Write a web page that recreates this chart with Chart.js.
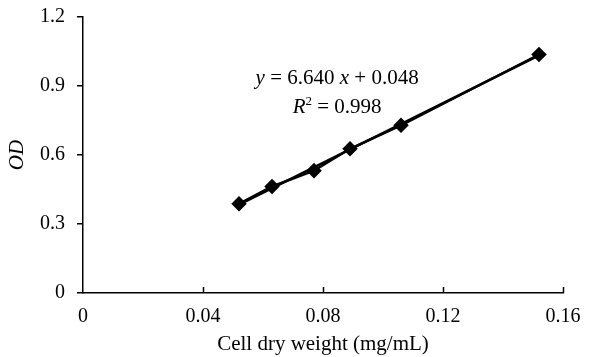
<!DOCTYPE html>
<html>
<head>
<meta charset="utf-8">
<script src="https://cdn.jsdelivr.net/npm/chart.js@4/dist/chart.umd.min.js"></script>
<style>
html,body{margin:0;padding:0;background:#fff;}
canvas{display:block;}
</style>
</head>
<body>
<canvas id="c" width="595" height="357"></canvas>
<script>
const cellDryWeight = [0.052, 0.063, 0.077, 0.089, 0.106, 0.152];
const odValues = [0.388, 0.463, 0.532, 0.627, 0.729, 1.037];
const xTicks = [0, 0.04, 0.08, 0.12, 0.16];
const yTicks = [0, 0.3, 0.6, 0.9, 1.2];
const xTitle = 'Cell dry weight (mg/mL)';
const yTitle = 'OD';
const eqLine1 = [{t:'y',i:true},{t:' = 6.640 '},{t:'x',i:true},{t:' + 0.048'}];
const eqLine2 = [{t:'R',i:true},{t:'2',sup:true},{t:' = 0.998'}];

// least-squares trendline from the points
const n = cellDryWeight.length;
const mx = cellDryWeight.reduce((a,b)=>a+b,0)/n;
const my = odValues.reduce((a,b)=>a+b,0)/n;
let sxy=0,sxx=0;
for(let i=0;i<n;i++){sxy+=(cellDryWeight[i]-mx)*(odValues[i]-my);sxx+=(cellDryWeight[i]-mx)**2;}
const slope=sxy/sxx, icpt=my-slope*mx;
const xMin=Math.min(...cellDryWeight), xMax=Math.max(...cellDryWeight);
const trend=[{x:xMin,y:icpt+slope*xMin},{x:xMax,y:icpt+slope*xMax}];

const FONT='"Liberation Serif","Times New Roman",serif';
const FS=20;   // tick labels
const FT=21;   // titles / equation

const extras={
  id:'extras',
  afterDraw(chart){
    const ctx=chart.ctx, xs=chart.scales.x, ys=chart.scales.y;
    ctx.save();
    // inward x ticks
    ctx.strokeStyle='#000'; ctx.lineWidth=1.5;
    xTicks.forEach(v=>{
      if(v===0) return;
      const px=Math.round(xs.getPixelForValue(v))+0.5;
      ctx.beginPath(); ctx.moveTo(px,ys.bottom); ctx.lineTo(px,ys.bottom-6); ctx.stroke();
    });
    // equation
    function drawLine(segs,cx,cy){
      ctx.textBaseline='alphabetic';
      const fontOf=s=>(s.i?'italic ':'')+(s.sup?Math.round(FT*0.62):FT)+'px '+FONT;
      let w=0;
      segs.forEach(s=>{ctx.font=fontOf(s); w+=ctx.measureText(s.t).width;});
      let x=cx-w/2;
      segs.forEach(s=>{
        ctx.font=fontOf(s); ctx.fillStyle='#000';
        ctx.fillText(s.t,x,s.sup?cy-FT*0.38:cy);
        x+=ctx.measureText(s.t).width;
      });
    }
    const cx=xs.getPixelForValue(0.0847);
    drawLine(eqLine1,cx,ys.getPixelForValue(0.939)+7);
    drawLine(eqLine2,cx,ys.getPixelForValue(0.813)+7);
    ctx.restore();
  }
};

new Chart(document.getElementById('c'),{
  type:'scatter',
  data:{datasets:[
    {data:trend,showLine:true,borderColor:'#000',borderWidth:2.5,pointRadius:0,fill:false},
    {data:cellDryWeight.map((x,i)=>({x,y:odValues[i]})),showLine:true,borderColor:'#000',borderWidth:2.5,
     pointStyle:'rectRot',pointRadius:6,pointBackgroundColor:'#000',pointBorderColor:'#000',fill:false}
  ]},
  options:{
    responsive:false,animation:false,
    layout:{padding:{top:17,right:32,left:0,bottom:0}},
    plugins:{legend:{display:false},tooltip:{enabled:false}},
    scales:{
      x:{type:'linear',min:0,max:0.16,
        afterBuildTicks:s=>{s.ticks=xTicks.map(v=>({value:v}));},
        afterFit:s=>{s.height=64;s.paddingLeft=0;s.paddingRight=0;},
        ticks:{color:'#000',font:{family:FONT,size:FS},padding:12,maxRotation:0,
          callback:v=>String(parseFloat(v.toFixed(2)))},
        grid:{display:false,drawTicks:false},
        border:{display:true,color:'#000',width:1.5},
        title:{display:true,text:xTitle,color:'#000',font:{family:FONT,size:FT},padding:{top:0,bottom:0}}
      },
      y:{type:'linear',min:0,max:1.2,
        afterBuildTicks:s=>{s.ticks=yTicks.map(v=>({value:v}));},
        afterFit:s=>{s.width=83;s.paddingTop=0;s.paddingBottom=0;},
        ticks:{color:'#000',font:{family:FONT,size:FS},padding:12,
          callback:v=>String(parseFloat(v.toFixed(1)))},
        grid:{display:true,drawOnChartArea:false,drawTicks:true,tickLength:6,color:'#000',lineWidth:1.5},
        border:{display:true,color:'#000',width:1.5},
        title:{display:true,text:yTitle,color:'#000',font:{family:FONT,size:FT,style:'italic'},padding:{top:5,bottom:0}}
      }
    }
  },
  plugins:[extras]
});
</script>
</body>
</html>
